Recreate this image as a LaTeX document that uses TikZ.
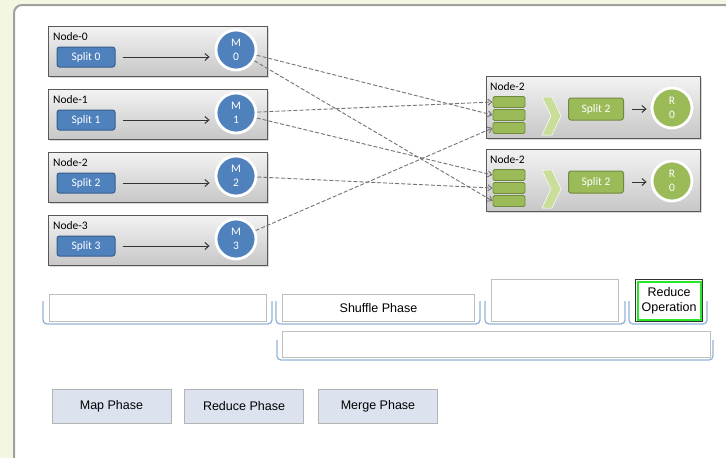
\documentclass[tikz,border=0pt]{standalone}
\usepackage{fontspec}
\setmainfont{Liberation Sans}
\newfontfamily\carl{Carlito}
\usetikzlibrary{arrows.meta,shadows}
\definecolor{bgc}{RGB}{243,246,225}
\definecolor{panelb}{RGB}{160,160,160}
\definecolor{mblue}{RGB}{79,129,189}
\definecolor{mblueb}{RGB}{56,93,138}
\definecolor{mgreen}{RGB}{155,187,89}
\definecolor{mgreenb}{RGB}{113,137,63}
\definecolor{chev}{RGB}{201,222,154}
\definecolor{brk}{RGB}{149,179,215}
\definecolor{btn}{RGB}{220,227,238}
\definecolor{btnb}{RGB}{180,180,180}
\definecolor{boxb}{RGB}{190,190,190}
\definecolor{opgreen}{RGB}{40,230,40}
\tikzset{
  hostbox/.style={draw=black!65, line width=1.2, top color=black!5, bottom color=black!22,
    minimum width=219, minimum height=50, anchor=north west, inner sep=0,
    drop shadow={shadow xshift=1.5pt, shadow yshift=-1.5pt, opacity=0.3}},
  hostlbl/.style={anchor=west, font=\carl\fontsize{11.5}{13}\selectfont, inner sep=1},
  splitbox/.style={draw=mblueb, line width=1, fill=mblue, rounded corners=2.5,
    minimum width=58, minimum height=20, inner sep=0, text=white,
    font=\carl\fontsize{11.5}{13}\selectfont},
  mcirc/.style={circle, draw=white, line width=2.8, fill=mblue, minimum size=40, inner sep=0,
    text=white, align=center, font=\carl\fontsize{11.5}{14}\selectfont,
    drop shadow={shadow xshift=1pt, shadow yshift=-1pt, opacity=0.35}},
  gsplit/.style={splitbox, draw=mgreenb, fill=mgreen, minimum width=55, minimum height=22},
  rcirc/.style={mcirc, fill=mgreen},
  queue/.style={draw=mgreenb, line width=0.8, fill=mgreen, rounded corners=1.5,
    minimum width=32, minimum height=11, inner sep=0},
  solidarrow/.style={draw=black!80, line width=1, -{Straight Barb[length=4pt,width=7pt]}},
  shuffle/.style={draw=black!55, line width=0.9, dash pattern=on 4pt off 2pt,
    -{Straight Barb[length=4pt,width=6pt]}},
  phasebox/.style={draw=boxb, line width=1, fill=white, anchor=north west, inner sep=0,
    font=\fontsize{12.5}{14.5}\selectfont},
  bracket/.style={draw=brk, line width=1.3, rounded corners=4},
  btnbox/.style={draw=btnb, line width=1, fill=btn, minimum width=119, minimum height=34,
    inner sep=0, font=\fontsize{12.5}{14.5}\selectfont},
}
\begin{document}
\begin{tikzpicture}[x=1pt,y=-1pt]
\useasboundingbox (0,0) rectangle (726,458);
\fill[bgc] (0,0) rectangle (726,458);
\filldraw[fill=white, draw=panelb, line width=2, rounded corners=8] (14,5) rectangle (760,490);

% map hosts
\foreach \i/\t in {0/26,1/89,2/152,3/215}{
  \node[hostbox] (n\i) at (48,\t) {};
  \node[hostlbl] (l\i) at (52,\t+11) {Node-\i};
  \node[splitbox] (s\i) at (86,\t+31) {Split \i};
  \node[mcirc] (m\i) at (236,\t+24) {M\\\i};
  \draw[solidarrow] ([xshift=7pt]s\i.east) -- ([xshift=-5pt]m\i.west |- s\i.east);
}

% reduce hosts
\foreach \j/\t in {1/76,2/149}{
  \node[hostbox, minimum width=214, minimum height=62] (rb\j) at (486,\t) {};
  \node[hostlbl] (rl\j) at (489,\t+11) {Node-2};
  \node[queue] (q\j1) at (509,\t+26) {};
  \node[queue] (q\j2) at (509,\t+39) {};
  \node[queue] (q\j3) at (509,\t+52) {};
  \fill[chev, draw=white, line width=0.5] (542,\t+21) -- (552,\t+21) -- (561,\t+40) -- (552,\t+59) -- (542,\t+59) -- (551,\t+40) -- cycle;
  \node[gsplit] (g\j) at (596,\t+33) {Split 2};
  \node[rcirc] (r\j) at (672,\t+32) {R\\0};
  \draw[solidarrow] ([xshift=8pt]g\j.east) -- ([xshift=-4pt]r\j.west |- g\j.east);
}

% shuffle connectors
\draw[shuffle] (m0) -- (q12.west);
\draw[shuffle] (m0) -- (q23.west);
\draw[shuffle] (m1) -- (q11.west);
\draw[shuffle] (m1) -- (q21.west);
\draw[shuffle] (m2) -- (q22.west);
\draw[shuffle] (m3) -- (q13.west);

% phase boxes
\node[phasebox, minimum width=217, minimum height=27] (e1) at (49,294) {};
\node[phasebox, minimum width=192, minimum height=27] (sh) at (282,294) {Shuffle Phase};
\node[phasebox, minimum width=127, minimum height=42] (e3) at (491,279) {};
\node[phasebox, draw=black!80, line width=1.2, minimum width=67, minimum height=42, align=center] (ro) at (635,279) {Reduce\\Operation};
\draw[opgreen, line width=2] ([shift={(2.6,2.6)}]ro.north west) rectangle ([shift={(-2.6,-2.6)}]ro.south east);
\node[phasebox, minimum width=428, minimum height=26] (lg) at (282,331) {};

% brackets
\draw[bracket] (43,301) -- (43,324) -- (272,324) -- (272,301);
\draw[bracket] (276,301) -- (276,324) -- (480,324) -- (480,301);
\draw[bracket] (485,301) -- (485,324) -- (625,324) -- (625,301);
\draw[bracket] (629,301) -- (629,324) -- (707,324) -- (707,301);
\draw[bracket] (277,340) -- (277,360) -- (713,360) -- (713,340);

% buttons
\node[btnbox] (bmap) at (111.5,406) {Map Phase};
\node[btnbox] (bred) at (244,406) {Reduce Phase};
\node[btnbox] (bmer) at (378,406) {Merge Phase};
\end{tikzpicture}
\end{document}
